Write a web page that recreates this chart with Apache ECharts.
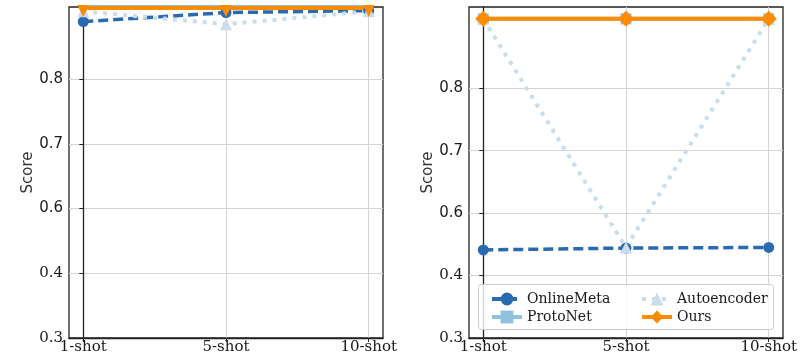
<!DOCTYPE html>
<html><head><meta charset="utf-8">
<script src="https://cdn.jsdelivr.net/npm/echarts@6/dist/echarts.min.js"></script>
<style>html,body{margin:0;padding:0;background:#fff}#c{width:810px;height:360px}</style>
</head><body><div id="c"></div>
<script>
const categories = ['1-shot', '5-shot', '10-shot'];
const yTickLabels = ['0.3', '0.4', '0.6', '0.7', '0.8'];
const yTickPositions = [0.3, 0.4, 0.5, 0.6, 0.7];
// values on the plotted (evenly spaced) score scale
const leftOnlineMeta = [0.789, 0.803, 0.806];
const leftProtoNet = [0.813, 0.813, 0.813];
const leftAutoencoder = [0.805, 0.785, 0.805];
const leftOurs = [0.810, 0.810, 0.810];
const rightOnlineMeta = [0.441, 0.444, 0.445];
const rightProtoNet = [0.811, 0.811, 0.811];
const rightAutoencoder = [0.811, 0.445, 0.811];
const rightOurs = [0.811, 0.811, 0.811];

const C_OM = '#2a6ab0', C_PN = '#90c2de', C_AE = '#c9ddec', C_OU = '#ff8c00';
const pts = arr => arr.map((v, i) => [i, v]);

function xAxis(idx) {
  return {
    type: 'value', gridIndex: idx, min: -0.1, max: 2.1,
    axisLine: { show: true, lineStyle: { color: '#222', width: 1.3 } },
    axisTick: { show: true, customValues: [0, 1, 2], length: 4, lineStyle: { color: '#222' } },
    axisLabel: { customValues: [0, 1, 2], formatter: v => categories[Math.round(v)],
      fontFamily: 'DejaVu Serif', fontSize: 15, color: '#1a1a1a', margin: 2 },
    splitLine: { show: true, lineStyle: { color: '#d4d4d4', width: 1 } }
  };
}
function yAxis(idx, max) {
  return {
    type: 'value', gridIndex: idx, min: 0.3, max: max,
    name: 'Score', nameLocation: 'middle', nameGap: 33,
    nameTextStyle: { fontFamily: 'DejaVu Sans', fontSize: 15, color: '#333' },
    axisLine: { show: true, lineStyle: { color: '#222', width: 1.3 } },
    axisTick: { show: true, customValues: yTickPositions, length: 4, lineStyle: { color: '#222' } },
    axisLabel: { customValues: yTickPositions, margin: 6,
      formatter: v => {
        const i = Math.round((v - 0.3) * 10);
        return i <= 1 ? '{s|' + yTickLabels[i] + '}' : '{n|' + yTickLabels[i] + '}';
      },
      rich: {
        s: { fontFamily: 'DejaVu Serif', fontSize: 15, color: '#1a1a1a' },
        n: { fontFamily: 'DejaVu Sans', fontSize: 15, color: '#1a1a1a' }
      } },
    splitLine: { show: true, lineStyle: { color: '#d4d4d4', width: 1 } }
  };
}
function mk(name, data, g, style) {
  return Object.assign({
    name: name, type: 'line', xAxisIndex: g, yAxisIndex: g, data: pts(data),
    clip: true, animation: false
  }, style);
}
const sOM = { itemStyle: { color: C_OM }, lineStyle: { color: C_OM, width: 3.5, type: [10, 5] }, symbol: 'circle', symbolSize: 11 };
const sPN = { itemStyle: { color: C_PN }, lineStyle: { color: C_PN, width: 4 }, symbol: 'rect', symbolSize: 11 };
const sAE = { itemStyle: { color: C_AE }, lineStyle: { color: C_AE, width: 4, type: [4, 6] }, symbol: 'triangle', symbolSize: 12 };
const sOUr = { itemStyle: { color: C_OU }, lineStyle: { color: C_OU, width: 4 }, symbol: 'diamond', symbolSize: 16 };
const sOUl = { itemStyle: { color: C_OU }, lineStyle: { color: C_OU, width: 4 }, symbol: 'triangle', symbolRotate: 180, symbolSize: 12, symbolOffset: [0, 3] };

const legendCommon = {
  orient: 'vertical', top: 287, itemWidth: 30, itemHeight: 16, itemGap: 4, z: 6,
  lineStyle: { width: 4 },
  textStyle: { fontFamily: 'DejaVu Serif', fontSize: 14, color: '#1a1a1a', padding: [0, 0, 0, 0] },
  selectedMode: false
};

const chart = echarts.init(document.getElementById('c'), null, { renderer: 'canvas' });
chart.setOption({
  backgroundColor: '#fff',
  animation: false,
  grid: [
    { left: 69, top: 7, width: 314, height: 331, show: true, borderColor: '#222', borderWidth: 1.3, backgroundColor: 'transparent' },
    { left: 469, top: 7, width: 314, height: 331, show: true, borderColor: '#222', borderWidth: 1.3, backgroundColor: 'transparent' }
  ],
  xAxis: [xAxis(0), xAxis(1)],
  yAxis: [yAxis(0, 0.8116), yAxis(1, 0.830)],
  legend: [
    Object.assign({ left: 485, data: ['OnlineMeta', 'ProtoNet'] }, legendCommon),
    Object.assign({ left: 635, data: ['Autoencoder', 'Ours'] }, legendCommon)
  ],
  graphic: [{
    type: 'rect', z: 5, left: 478, top: 284, shape: { width: 295, height: 45, r: 3 },
    style: { fill: 'rgba(255,255,255,0.8)', stroke: '#cccccc', lineWidth: 1 }
  }],
  series: [
    mk('OnlineMeta', rightOnlineMeta, 1, sOM),
    mk('ProtoNet', rightProtoNet, 1, sPN),
    mk('Autoencoder', rightAutoencoder, 1, sAE),
    mk('Ours', rightOurs, 1, sOUr),
    mk('OnlineMeta', leftOnlineMeta, 0, sOM),
    mk('ProtoNet', leftProtoNet, 0, sPN),
    mk('Autoencoder', leftAutoencoder, 0, sAE),
    mk('Ours', leftOurs, 0, sOUl)
  ]
});
</script>
</body></html>
